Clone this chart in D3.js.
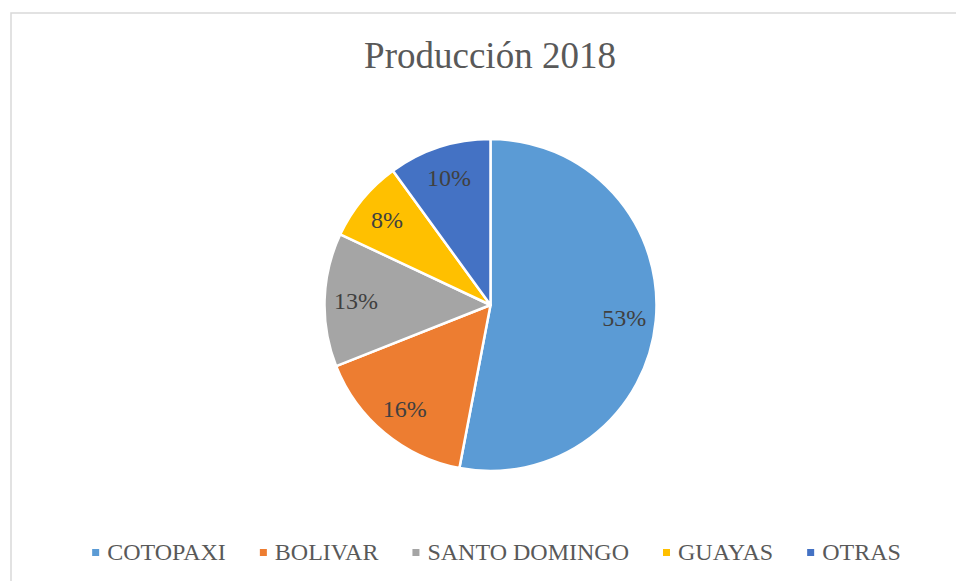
<!DOCTYPE html>
<html>
<head>
<meta charset="utf-8">
<script src="https://cdn.jsdelivr.net/npm/d3@7"></script>
<style>
  html, body { margin: 0; padding: 0; background: #fff; }
  svg { display: block; }
</style>
</head>
<body>
<svg id="chart" width="956" height="581" font-family="'Liberation Serif', 'Times New Roman', Tinos, serif"></svg>
<script>
const title = "Producción 2018";
const categories = ["COTOPAXI", "BOLIVAR", "SANTO DOMINGO", "GUAYAS", "OTRAS"];
const values = [53, 16, 13, 8, 10];
const colors = ["#5B9BD5", "#ED7D31", "#A5A5A5", "#FFC000", "#4472C4"];

const W = 956, H = 581;
const svg = d3.select("#chart");

// chart area border (only top/left visible in the frame)
svg.append("rect")
  .attr("x", 11).attr("y", 13)
  .attr("width", W + 20).attr("height", H + 20)
  .attr("fill", "none").attr("stroke", "#d9d9d9").attr("stroke-width", 1.5);

svg.append("text")
  .attr("x", 490).attr("y", 68)
  .attr("text-anchor", "middle")
  .attr("font-size", 37)
  .attr("fill", "#595959")
  .text(title);

const cx = 490.5, cy = 305, R = 166;
const data = categories.map((c, i) => ({ name: c, value: values[i], color: colors[i] }));
const pie = d3.pie().value(d => d.value).sort(null);
const arcs = pie(data);
const arc = d3.arc().innerRadius(0).outerRadius(R);
const labelArc = d3.arc().innerRadius(R * 0.81).outerRadius(R * 0.81);
const total = d3.sum(values);

const g = svg.append("g").attr("transform", `translate(${cx},${cy})`);
g.selectAll("path.slice").data(arcs).enter().append("path")
  .attr("class", "slice")
  .attr("d", arc)
  .attr("fill", d => d.data.color)
  .attr("stroke", "#fff")
  .attr("stroke-width", 2.5)
  .attr("stroke-linejoin", "round");

g.selectAll("text.lbl").data(arcs).enter().append("text")
  .attr("class", "lbl")
  .attr("transform", d => { const [x, y] = labelArc.centroid(d); return `translate(${x},${y})`; })
  .attr("text-anchor", "middle")
  .attr("dy", "0.35em")
  .attr("font-size", 24)
  .attr("fill", "#404040")
  .text(d => Math.round(d.data.value / total * 100) + "%");

// legend
const legend = svg.append("g");
const items = legend.selectAll("g.item").data(data).enter().append("g").attr("class", "item");
items.append("rect").attr("width", 7).attr("height", 7).attr("y", 549).attr("fill", d => d.color);
items.append("text").attr("y", 560).attr("font-size", 24).attr("fill", "#595959").text(d => d.name);
let widths = [];
items.select("text").each(function () { widths.push(this.getComputedTextLength()); });
const markerW = 7, gapMT = 8, gapItems = 34;
let totalW = 0;
widths.forEach((w, i) => { totalW += markerW + gapMT + w + (i < widths.length - 1 ? gapItems : 0); });
let x = 496.5 - totalW / 2;
items.each(function (d, i) {
  const sel = d3.select(this);
  sel.select("rect").attr("x", x);
  sel.select("text").attr("x", x + markerW + gapMT);
  x += markerW + gapMT + widths[i] + gapItems;
});
</script>
</body>
</html>
